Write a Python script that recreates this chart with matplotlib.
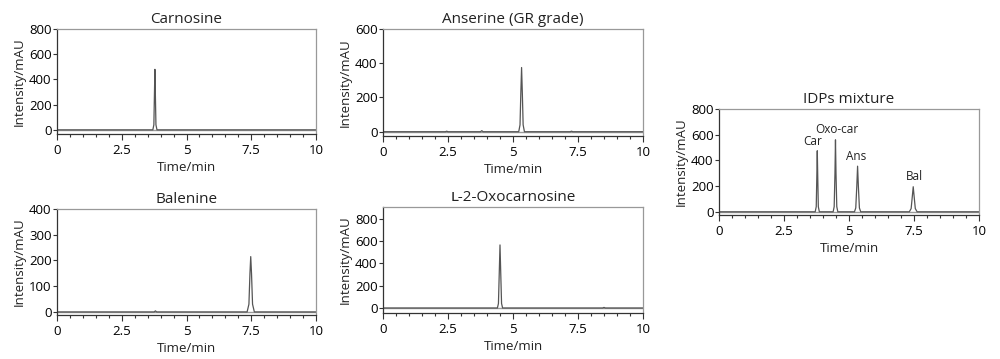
import matplotlib
matplotlib.use("Agg")
import matplotlib.pyplot as plt
from matplotlib.ticker import MultipleLocator

plt.rcParams['font.family'] = ['Open Sans', 'DejaVu Sans']

# traces (time/min, intensity/mAU)
car_t = [0, 3.70, 3.74, 3.76, 3.78, 3.80, 3.82, 3.86, 10]
car_y = [0, 0, 40, 260, 480, 260, 40, 0, 0]

ans_t = [0, 2.4, 2.45, 2.5, 3.75, 3.8, 3.85, 5.22, 5.27, 5.30, 5.33, 5.36, 5.39, 5.44, 7.2, 7.25, 7.3, 10]
ans_y = [0, 0, 3, 0, 0, 6, 0, 0, 40, 220, 375, 220, 40, 0, 0, 3, 0, 0]

bal_t = [0, 3.75, 3.8, 3.85, 7.34, 7.41, 7.45, 7.48, 7.51, 7.55, 7.62, 10]
bal_y = [0, 0, 4, 0, 0, 30, 150, 215, 150, 30, 0, 0]

oxo_t = [0, 4.40, 4.44, 4.47, 4.50, 4.53, 4.56, 4.60, 8.45, 8.5, 8.55, 10]
oxo_y = [0, 0, 40, 300, 565, 300, 40, 0, 0, 5, 0, 0]

mix_t = [0, 3.70, 3.74, 3.76, 3.78, 3.80, 3.82, 3.86,
         4.39, 4.43, 4.46, 4.48, 4.50, 4.53, 4.57,
         5.21, 5.26, 5.30, 5.33, 5.36, 5.40, 5.45,
         7.32, 7.39, 7.44, 7.47, 7.50, 7.55, 7.62, 10]
mix_y = [0, 0, 40, 250, 475, 250, 40, 0,
         0, 40, 300, 560, 300, 40, 0,
         0, 30, 200, 355, 200, 30, 0,
         0, 25, 130, 195, 130, 25, 0, 0]

mix_labels = ["Car", "Oxo-car", "Ans", "Bal"]
mix_label_x = [3.6, 4.55, 5.27, 7.5]
mix_label_y = [545, 640, 430, 272]

W, H = 1000, 359
fig = plt.figure(figsize=(W / 100, H / 100), dpi=100)

# name, trace, yticks, ylim, axes box in pixels (left, top, right, bottom)
panels = [
    ("Carnosine", car_t, car_y, [0, 200, 400, 600, 800], (-33, 800), (57, 29, 316, 134)),
    ("Anserine (GR grade)", ans_t, ans_y, [0, 200, 400, 600], (-25, 600), (383, 29, 643, 136)),
    ("Balenine", bal_t, bal_y, [0, 100, 200, 300, 400], (-12, 400), (57, 209, 316, 315)),
    ("\u029f-2-Oxocarnosine", oxo_t, oxo_y, [0, 200, 400, 600, 800], (-45, 905), (383, 207, 643, 313)),
    ("IDPs mixture", mix_t, mix_y, [0, 200, 400, 600, 800], (-25, 800), (719, 109, 979, 215)),
]

for title, t, y, yt, yl, box in panels:
    l, tp, r, b = box
    ax = fig.add_axes([l / W, 1 - b / H, (r - l) / W, (b - tp) / H])
    ax.axhline(0, color='#9a9a9a', lw=1.0, zorder=1)
    ax.plot(t, y, color='#555555', lw=0.9, zorder=2)
    ax.set_xlim(0, 10)
    ax.set_ylim(*yl)
    ax.set_yticks(yt)
    ax.set_yticklabels([str(v) for v in yt])
    ax.xaxis.set_minor_locator(MultipleLocator(0.5))
    ax.set_xticks([0, 2.5, 5, 7.5, 10])
    ax.set_xticklabels(["0", "2.5", "5", "7.5", "10"])
    ax.tick_params(axis='x', which='major', length=4, width=0.8, color='#333333',
                   labelsize=9.5, pad=3)
    ax.tick_params(axis='x', which='minor', length=2.5, width=0.8, color='#333333')
    ax.tick_params(axis='y', length=3, width=0.8, color='#333333', labelsize=9.5, pad=1)
    for s in ['top', 'right']:
        ax.spines[s].set_color('#999999')
        ax.spines[s].set_linewidth(0.9)
    for s in ['left', 'bottom']:
        ax.spines[s].set_color('#333333')
        ax.spines[s].set_linewidth(0.9)
    ax.set_title(title, fontsize=11, pad=4, color='#222222')
    ax.set_xlabel("Time/min", fontsize=9.5, labelpad=3, color='#222222')
    ax.set_ylabel("Intensity/mAU", fontsize=9.5, labelpad=2, color='#222222')
    if title == "IDPs mixture":
        for lab, lx, ly in zip(mix_labels, mix_label_x, mix_label_y):
            ax.text(lx, ly, lab, fontsize=8.5, ha='center', va='center', color='#222222')

fig.savefig("out.png", dpi=100)
